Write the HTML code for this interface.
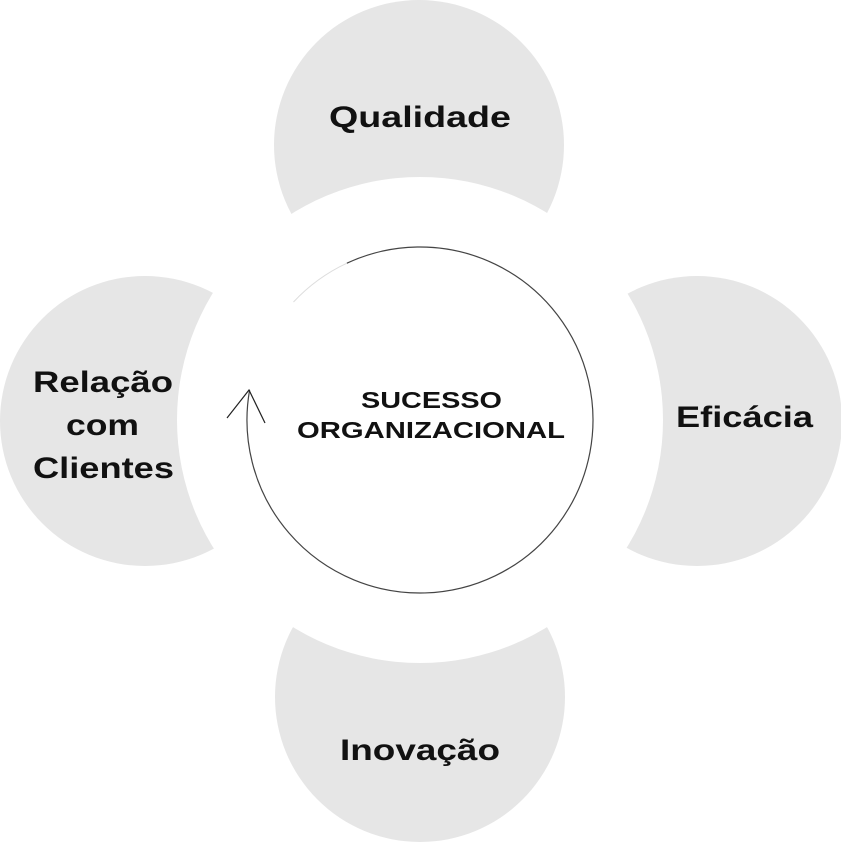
<!DOCTYPE html>
<html><head><meta charset="utf-8"><style>html,body{margin:0;padding:0;background:#fff;}svg{display:block}</style></head>
<body>
<svg width="841" height="843" viewBox="0 0 841 843" xmlns="http://www.w3.org/2000/svg">
<g fill="#e6e6e6">
<circle cx="419" cy="145" r="145"/>
<circle cx="145" cy="421" r="145"/>
<circle cx="697" cy="421" r="145"/>
<circle cx="420" cy="697" r="145"/>
</g>
<circle cx="420" cy="420" r="243" fill="#fff"/>
<path d="M293.5 302 A173 173 0 0 1 346.9 263.2" fill="none" stroke="#ddd" stroke-width="1"/>
<path d="M346.9 263.2 A173 173 0 1 1 249.6 390" fill="none" stroke="#444" stroke-width="1.2"/>
<path d="M227 418 L249 390 L265 423" fill="none" stroke="#222" stroke-width="1.2"/>
<g font-family="Liberation Sans, sans-serif" font-weight="bold" fill="#111">
<text x="361" y="408" font-size="23" textLength="141" lengthAdjust="spacingAndGlyphs">SUCESSO</text>
<text x="297" y="438" font-size="23" textLength="268" lengthAdjust="spacingAndGlyphs">ORGANIZACIONAL</text>
<text x="329" y="127" font-size="30" textLength="182" lengthAdjust="spacingAndGlyphs">Qualidade</text>
<text x="676" y="427" font-size="30" textLength="137" lengthAdjust="spacingAndGlyphs">Eficácia</text>
<text x="340" y="760" font-size="30" textLength="160" lengthAdjust="spacingAndGlyphs">Inovação</text>
<text x="33" y="392" font-size="30" textLength="140" lengthAdjust="spacingAndGlyphs">Relação</text>
<text x="66" y="435" font-size="30" textLength="73" lengthAdjust="spacingAndGlyphs">com</text>
<text x="33" y="478" font-size="30" textLength="141" lengthAdjust="spacingAndGlyphs">Clientes</text>
</g>
</svg>
</body></html>
